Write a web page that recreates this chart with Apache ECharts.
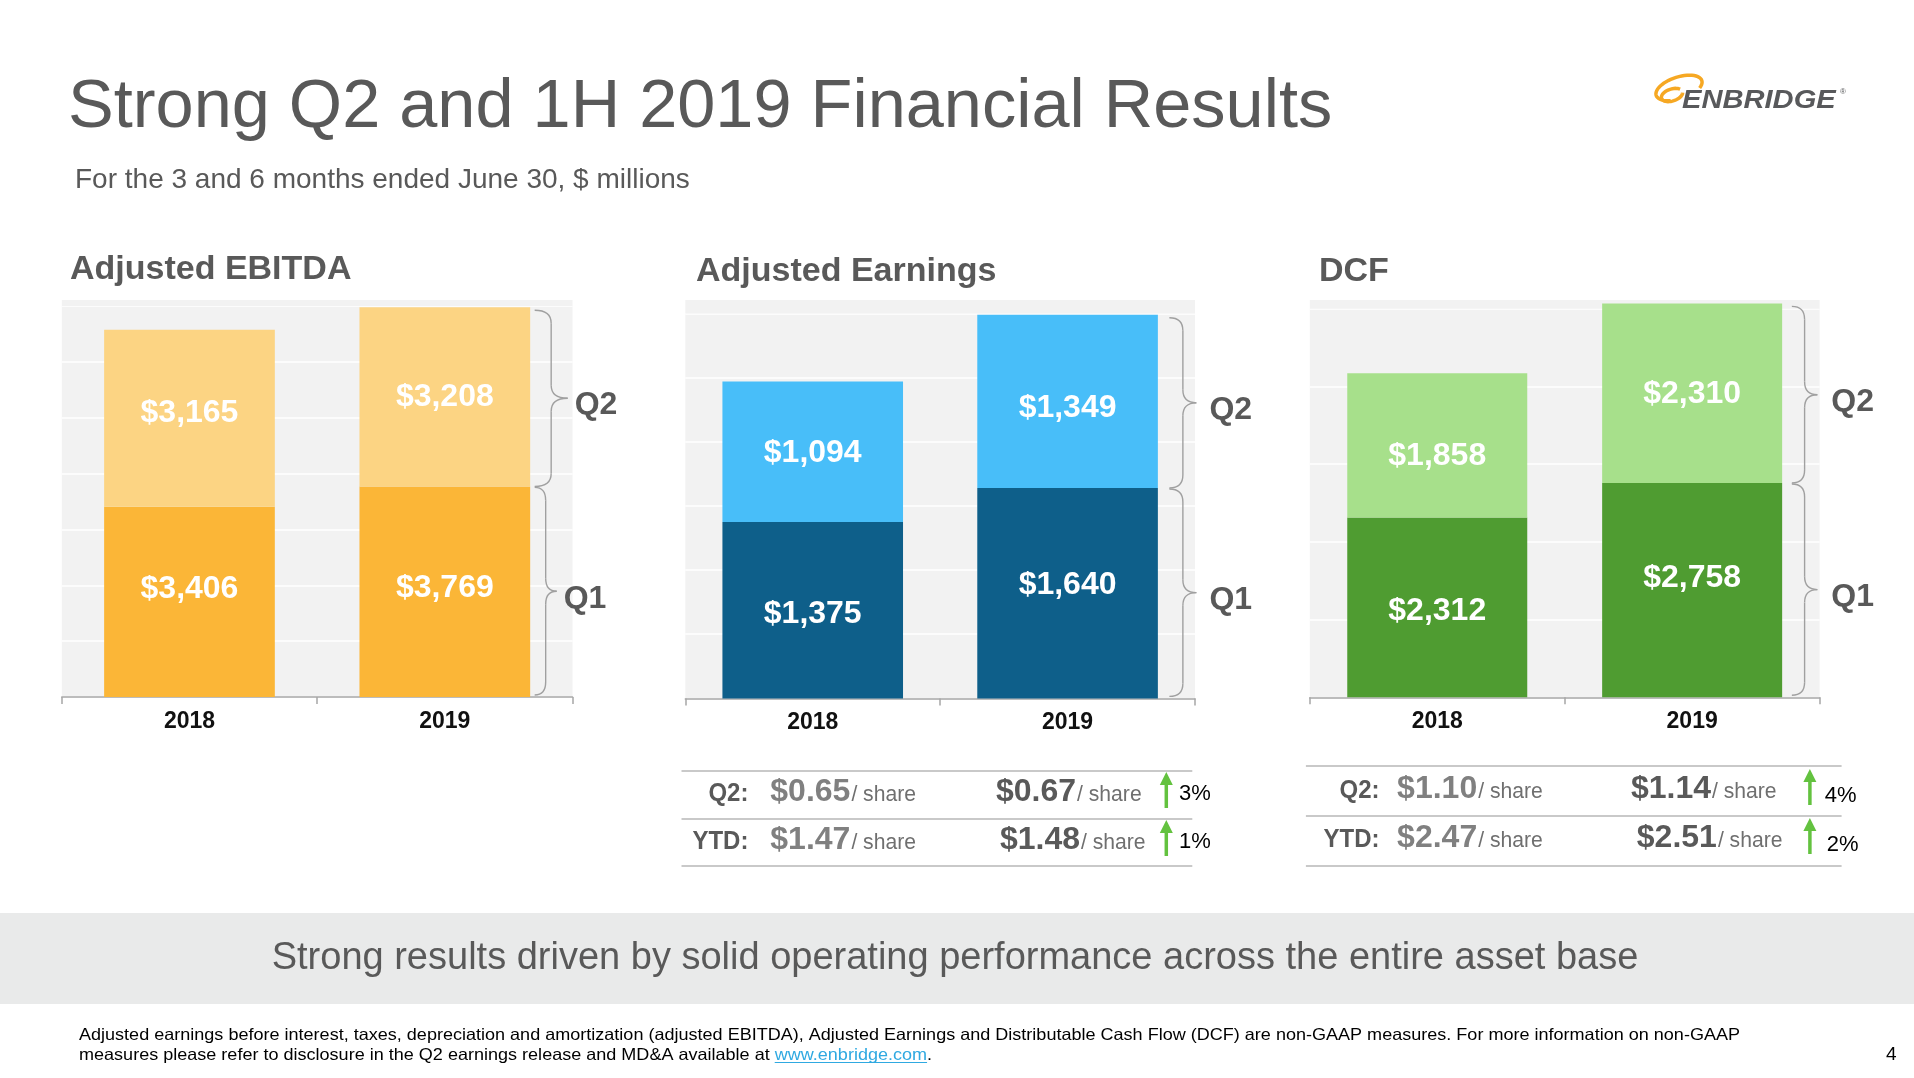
<!DOCTYPE html>
<html>
<head>
<meta charset="utf-8">
<script src="https://cdn.jsdelivr.net/npm/echarts/dist/echarts.min.js"></script>
<style>html,body{margin:0;padding:0;background:#fff;}#c{width:1914px;height:1078px;}</style>
</head>
<body>
<div id="c"></div>
<script>
// ---------------- data ----------------
const years = ['2018', '2019'];
const ebitdaQ1 = [3406, 3769];
const ebitdaQ2 = [3165, 3208];
const earningsQ1 = [1375, 1640];
const earningsQ2 = [1094, 1349];
const dcfQ1 = [2312, 2758];
const dcfQ2 = [1858, 2310];
const ebitdaAxisMax = 7000, ebitdaAxisStep = 1000;
const earningsAxisMax = 3000, earningsAxisStep = 500;
const dcfAxisMax = 5000, dcfAxisStep = 1000;
const quarterNames = ['Q1', 'Q2'];
const panelTitles = ['Adjusted EBITDA', 'Adjusted Earnings', 'DCF'];

const shareRows = ['Q2:', 'YTD:'];
const earningsPerShare2018 = [0.65, 1.47];
const earningsPerShare2019 = [0.67, 1.48];
const earningsChangePct = [3, 1];
const dcfPerShare2018 = [1.10, 2.47];
const dcfPerShare2019 = [1.14, 2.51];
const dcfChangePct = [4, 2];

const titleText = 'Strong Q2 and 1H 2019 Financial Results';
const subtitleText = 'For the 3 and 6 months ended June 30, $ millions';
const bannerText = 'Strong results driven by solid operating performance across the entire asset base';
const footLine1 = 'Adjusted earnings before interest, taxes, depreciation and amortization (adjusted EBITDA), Adjusted Earnings and Distributable Cash Flow (DCF) are non-GAAP measures. For more information on non-GAAP';
const footLine2a = 'measures please refer to disclosure in the Q2 earnings release and MD&A available at ';
const footLink = 'www.enbridge.com';
const footLine2b = '.';
const pageNumber = '4';

// ---------------- layout / style ----------------
const FONT = '"Liberation Sans", Arial, sans-serif';
const GREY = '#595959';
const panels = [
  {q1: ebitdaQ1, q2: ebitdaQ2, max: ebitdaAxisMax, step: ebitdaAxisStep, colors: ['#fbb637', '#fcd483'],
   grid: {left: 61.8, top: 305.9, width: 510.7, height: 391.1}, barWidth: 170.7,
   labelNudge: [[-13, -4], [-5, 0]],
   brace: {gap: 4.5, w2: 33, w1: 22, dx2: 7, dx1: 7},
   titleX: 70, titleY: 270},
  {q1: earningsQ1, q2: earningsQ2, max: earningsAxisMax, step: earningsAxisStep, colors: ['#0e5f8a', '#48bef9'],
   grid: {left: 685.3, top: 313.4, width: 509.7, height: 385}, barWidth: 180.6,
   labelNudge: [[4, -8], [1, 7]],
   brace: {gap: 11.5, w2: 27, w1: 27, dx2: 13, dx1: 13},
   titleX: 696, titleY: 271.5},
  {q1: dcfQ1, q2: dcfQ2, max: dcfAxisMax, step: dcfAxisStep, colors: ['#4f9c31', '#a7e08b'],
   grid: {left: 1309.8, top: 308.7, width: 509.8, height: 388.6}, barWidth: 180,
   labelNudge: [[4, -12], [11, 1]],
   brace: {gap: 9.7, w2: 25.5, w1: 25.5, dx2: 14, dx1: 14},
   titleX: 1319, titleY: 271.5}
];
const BG_TOP = 300;

const mctx = document.createElement('canvas').getContext('2d');
function fontStr(size, weight, style) { return (style || 'normal') + ' ' + (weight || 'normal') + ' ' + size + 'px ' + FONT; }
function measure(text, size, weight, style) { mctx.font = fontStr(size, weight, style); return mctx.measureText(text).width; }

function txt(text, x, y, size, o) {
  o = o || {};
  return {
    type: 'text', x: x, y: y, scaleX: o.scaleX || 1, z: 20, silent: true,
    style: {
      text: text, fill: o.color || GREY, fontSize: size, fontWeight: o.weight || 'normal',
      fontStyle: o.fontStyle || 'normal', fontFamily: FONT,
      align: o.align || 'left', textAlign: o.align || 'left',
      verticalAlign: 'middle', textVerticalAlign: 'middle'
    }
  };
}
function line(x1, y1, x2, y2, color, w) {
  return {type: 'line', z: 15, silent: true, shape: {x1: x1, y1: y1, x2: x2, y2: y2}, style: {stroke: color, lineWidth: w}};
}
function quad(x1, y1, cx, cy, x2, y2, color, w) {
  return {type: 'bezierCurve', z: 15, silent: true, shape: {x1: x1, y1: y1, x2: x2, y2: y2, cpx1: cx, cpy1: cy},
    style: {stroke: color, lineWidth: w, fill: null}};
}
function brace(x0, yTop, yBot, w) {
  const xm = x0 + w / 2, xt = x0 + w, ym = (yTop + yBot) / 2, r = 13, c = '#a0a0a0', lw = 1.4;
  return [
    quad(x0, yTop, xm, yTop, xm, yTop + r, c, lw),
    line(xm, yTop + r, xm, ym - r, c, lw),
    quad(xm, ym - r, xm, ym, xt, ym, c, lw),
    quad(xt, ym, xm, ym, xm, ym + r, c, lw),
    line(xm, ym + r, xm, yBot - r, c, lw),
    quad(xm, yBot - r, xm, yBot, x0, yBot, c, lw)
  ];
}
function arrow(x, yTop, yBot) {
  const col = '#63c23f';
  return [
    line(x, yTop + 10, x, yBot, col, 3.5),
    {type: 'polygon', z: 16, silent: true, shape: {points: [[x, yTop], [x - 6.5, yTop + 13], [x + 6.5, yTop + 13]]}, style: {fill: col}}
  ];
}

const chart = echarts.init(document.getElementById('c'), null, {renderer: 'canvas', width: 1914, height: 1078});

const grids = [], xAxes = [], yAxes = [], series = [];
panels.forEach(function (p, i) {
  grids.push(Object.assign({show: true, backgroundColor: '#f2f2f2', borderWidth: 0, containLabel: false, outerBoundsMode: 'none'}, p.grid));
  xAxes.push({
    type: 'category', gridIndex: i, data: years,
    axisLine: {show: true, lineStyle: {color: '#a6a6a6', width: 1.5}},
    axisTick: {show: true, length: 7, lineStyle: {color: '#a6a6a6', width: 1.5}},
    axisLabel: {color: '#111', fontSize: 23, fontWeight: 'bold', fontFamily: FONT, margin: 13},
    splitLine: {show: false}
  });
  yAxes.push({
    type: 'value', gridIndex: i, min: 0, max: p.max, interval: p.step,
    axisLine: {show: false}, axisTick: {show: false}, axisLabel: {show: false},
    splitLine: {show: true, lineStyle: {color: '#ffffff', width: 1.5}}
  });
  [p.q1, p.q2].forEach(function (d, k) {
    series.push({
      type: 'bar', name: quarterNames[k], xAxisIndex: i, yAxisIndex: i, stack: 'st' + i,
      data: d.map(function (v, j) { return {value: v, label: {offset: [0, p.labelNudge[k][j]]}}; }),
      barWidth: p.barWidth, clip: false,
      itemStyle: {color: p.colors[k]},
      label: {show: true, position: 'inside', color: '#ffffff', fontSize: 32, fontWeight: 'bold', fontFamily: FONT,
        textBorderWidth: 0, formatter: function (v) { return '$' + Number(v.value).toLocaleString('en-US'); }},
      emphasis: {disabled: true}
    });
  });
});

chart.setOption({
  animation: false,
  backgroundColor: '#ffffff',
  grid: grids, xAxis: xAxes, yAxis: yAxes, series: series
});

// ---------------- graphics ----------------
const g = [];
panels.forEach(function (p, i) {
  g.push({type: 'rect', z: 1, silent: true, shape: {x: p.grid.left, y: BG_TOP, width: p.grid.width, height: p.grid.top - BG_TOP},
    style: {fill: '#f2f2f2'}});
  g.push(txt(panelTitles[i], p.titleX, p.titleY, 34, {weight: 'bold'}));
  // braces positioned through the axes
  const base = chart.convertToPixel({gridIndex: i}, [years[1], 0]);
  const yQ1 = chart.convertToPixel({gridIndex: i}, [years[1], p.q1[1]])[1];
  const yTot = chart.convertToPixel({gridIndex: i}, [years[1], p.q1[1] + p.q2[1]])[1];
  const x0 = base[0] + p.barWidth / 2 + p.brace.gap;
  const b = p.brace;
  brace(x0, yTot + 3, yQ1, b.w2).forEach(function (e) { g.push(e); });
  brace(x0, yQ1 + 1, base[1] - 2, b.w1).forEach(function (e) { g.push(e); });
  g.push(txt(quarterNames[1], x0 + b.w2 + b.dx2, (yTot + 3 + yQ1) / 2 + 7, 32, {weight: 'bold'}));
  g.push(txt(quarterNames[0], x0 + b.w1 + b.dx1, (yQ1 + base[1]) / 2 + 7, 32, {weight: 'bold'}));
});

// title, subtitle
g.push(txt(titleText, 68, 108, 68.5, {}));
g.push(txt(subtitleText, 75, 180, 28, {}));

// logo
(function () {
  const col = '#f6a823';
  function ellArc(cx, cy, rx, ry, rot, t0, t1) {
    const pts = [], n = 40, cr = Math.cos(rot), sr = Math.sin(rot);
    for (let k = 0; k <= n; k++) {
      const t = t0 + (t1 - t0) * k / n;
      const ex = rx * Math.cos(t), ey = ry * Math.sin(t);
      pts.push([cx + ex * cr - ey * sr, cy + ex * sr + ey * cr]);
    }
    return {type: 'polyline', z: 20, silent: true, shape: {points: pts}, style: {stroke: col, lineWidth: 3.5, fill: null}};
  }
  const d = Math.PI / 180;
  g.push(ellArc(1679, 88, 24, 11, -18 * d, 120 * d, 395 * d));
  g.push(ellArc(1672, 95, 11, 6, -18 * d, 10 * d, 330 * d));
  g.push(txt('ENBRIDGE', 1682, 101, 26, {weight: 'bold', fontStyle: 'italic', color: '#58595b', scaleX: 1.12}));
  g.push(txt('®', 1840, 92, 8, {color: '#58595b'}));
})();

// per-share tables
function table(rowsA, rowsB, pct, L) {
  L.lines.forEach(function (y) { g.push(line(L.x1, y, L.x2, y, '#c9c9c9', 2)); });
  shareRows.forEach(function (lab, r) {
    const base = L.base[r];
    g.push(txt(lab, L.labelX, base - 9, 25, {weight: 'bold', align: 'right', scaleX: 0.96}));
    [[rowsA[r], L.colA[r], '#808080'], [rowsB[r], L.colB[r], GREY]].forEach(function (c) {
      const s = '$' + c[0].toFixed(2);
      g.push(txt(s, c[1], base - 11, 32, {weight: 'bold', color: c[2]}));
      const w = measure(s, 32, 'bold');
      g.push(txt('/ share', c[1] + w + 1, base - 7.8, 22, {color: '#6f6f6f', scaleX: 0.96}));
    });
    arrow(L.arrowX, base - 31, base + 5).forEach(function (e) { g.push(e); });
    g.push(txt(pct[r] + '%', L.pctX[r], base + L.pctDy - 7.7, 22, {color: '#000'}));
  });
}
table(earningsPerShare2018, earningsPerShare2019, earningsChangePct,
  {lines: [771, 819, 866], x1: 681.5, x2: 1192.3, base: [803, 851], labelX: 748.4, colA: [770.3, 770.3], colB: [996, 999.9],
   arrowX: 1166.3, pctX: [1179, 1179], pctDy: -1});
table(dcfPerShare2018, dcfPerShare2019, dcfChangePct,
  {lines: [766, 816, 866], x1: 1305.9, x2: 1841.6, base: [800, 849], labelX: 1379.5, colA: [1397.1, 1397.1], colB: [1630.9, 1636.8],
   arrowX: 1809.9, pctX: [1824.7, 1826.7], pctDy: 4});

// banner
g.push({type: 'rect', z: 1, silent: true, shape: {x: 0, y: 913, width: 1914, height: 91}, style: {fill: '#e9eaea'}});
g.push(txt(bannerText, 955, 958.5, 38, {align: 'center'}));

// footnote
(function () {
  const fs = 16.5;
  const sx = 1661 / measure(footLine1, fs);
  g.push(txt(footLine1, 79, 1035.5, fs, {color: '#000', scaleX: sx}));
  const wa = measure(footLine2a, fs) * sx;
  const wl = measure(footLink, fs) * sx;
  const y2 = 1055;
  g.push(txt(footLine2a, 79, y2, fs, {color: '#000', scaleX: sx}));
  g.push(txt(footLink, 79 + wa, y2, fs, {color: '#2fa9e1', scaleX: sx}));
  g.push(line(79 + wa, y2 + 7.5, 79 + wa + wl, y2 + 7.5, '#2fa9e1', 1));
  g.push(txt(footLine2b, 79 + wa + wl, y2, fs, {color: '#000', scaleX: sx}));
  g.push(txt(pageNumber, 1886, 1055, 19, {color: '#000'}));
})();

chart.setOption({graphic: {elements: g}});
</script>
</body>
</html>
